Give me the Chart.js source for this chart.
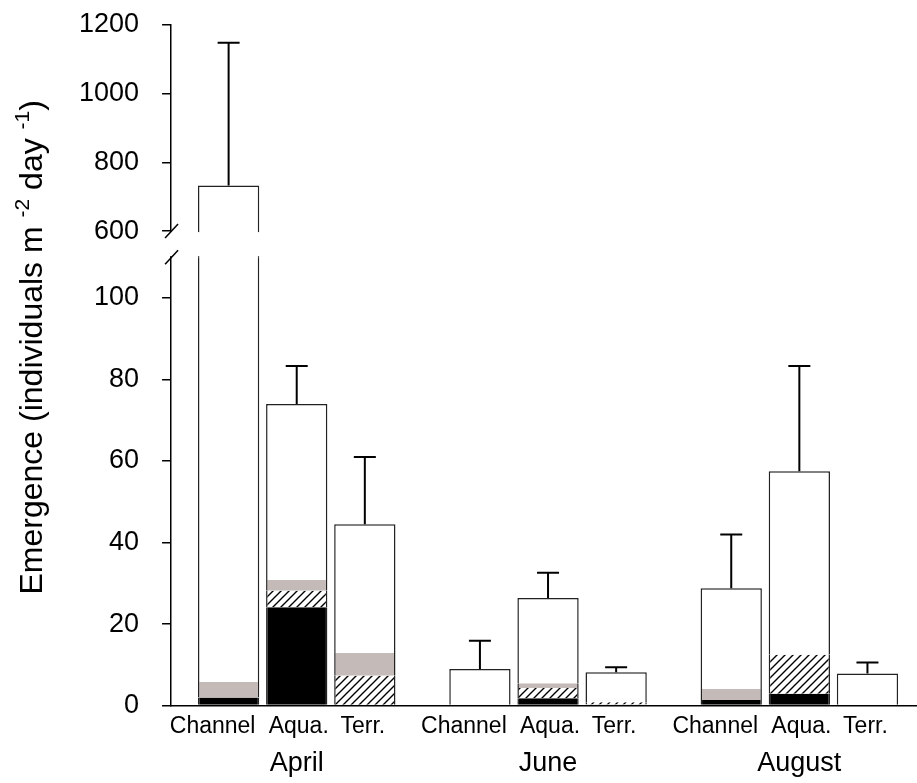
<!DOCTYPE html>
<html>
<head>
<meta charset="utf-8">
<script src="https://cdn.jsdelivr.net/npm/chart.js@4.4.1/dist/chart.umd.min.js"></script>
<style>
  html, body { margin: 0; padding: 0; background: #fff; overflow: hidden; }
  #wrap { width: 925px; height: 783px; }
</style>
</head>
<body>
<div id="wrap"><canvas id="emergenceChart"></canvas></div>
<script>
const months = ['April', 'June', 'August'];
const sites = ['Channel', 'Aqua.', 'Terr.'];

// mean emergence per site (April, June, August)
const totalChannel = [733, 9.0, 28.8];
const totalAqua = [74.0, 26.4, 57.5];
const totalTerr = [44.5, 8.2, 7.9];

// standard errors
const seChannel = [415, 6.9, 13.2];
const seAqua = [9.3, 6.2, 25.8];
const seTerr = [16.5, 1.2, 2.7];

// filled parts at the bottom of each bar: black, hatched, grey
const blackChannel = [2.0, 0, 1.4];
const hatchChannel = [0, 0, 0];
const greyChannel = [3.8, 0, 2.7];
const blackAqua = [24.1, 1.8, 2.9];
const hatchAqua = [4.1, 2.5, 9.6];
const greyAqua = [2.6, 1.2, 0];
const blackTerr = [0, 0.3, 0];
const hatchTerr = [7.3, 0.5, 0];
const greyTerr = [5.6, 0, 0];

const lowTicks = [0, 20, 40, 60, 80, 100];
const highTicks = [600, 800, 1000, 1200];

// broken axis: lower part 0-110, upper part 600-1200 (min lowered to hold the gap)
const lowMax = 110;
const highMin = 524;
const highMax = 1200;

const FONT = "'Liberation Sans', Arial, sans-serif";
const EDGE = '#222';

Chart.defaults.color = '#000';
Chart.defaults.font.family = FONT;

const canvas = document.getElementById('emergenceChart');
const ctx = canvas.getContext('2d');

// hatch pattern for the middle part
function makeHatch() {
    const c = document.createElement('canvas');
    c.width = 8;
    c.height = 8;
    const g = c.getContext('2d');
    g.fillStyle = '#fff';
    g.fillRect(0, 0, 8, 8);
    g.strokeStyle = '#000';
    g.lineWidth = 1.4;
    g.beginPath();
    g.moveTo(0, 8); g.lineTo(8, 0);
    g.moveTo(-2, 2); g.lineTo(2, -2);
    g.moveTo(6, 10); g.lineTo(10, 6);
    g.stroke();
    return ctx.createPattern(c, 'repeat');
}
const hatch = makeHatch();

const sides = {top: 0, right: 1.5, bottom: 0, left: 1.5};
const topBox = {top: 1.5, right: 1.5, bottom: 0, left: 1.5};

function siteDatasets(site, black, hatched, grey, total) {
    const white = total.map((t, i) => t - black[i] - hatched[i] - grey[i]);
    const common = {stack: site, yAxisID: 'y', borderColor: EDGE, borderSkipped: false};
    return [
        {...common, label: site + ' black', data: black, backgroundColor: '#000', borderWidth: sides},
        {...common, label: site + ' hatched', data: hatched, backgroundColor: hatch, borderWidth: sides},
        {...common, label: site + ' grey', data: grey, backgroundColor: '#c4bab8', borderWidth: sides},
        {...common, label: site + ' total', data: white, backgroundColor: '#fff', borderWidth: topBox}
    ];
}

// label shift under the bars (Channel sits a bit to the left)
const siteInfo = [
    {name: sites[0], total: totalChannel, se: seChannel, shift: -16},
    {name: sites[1], total: totalAqua, se: seAqua, shift: 2},
    {name: sites[2], total: totalTerr, se: seTerr, shift: -2}
];

const datasets = [
    ...siteDatasets(sites[0], blackChannel, hatchChannel, greyChannel, totalChannel),
    ...siteDatasets(sites[1], blackAqua, hatchAqua, greyAqua, totalAqua),
    ...siteDatasets(sites[2], blackTerr, hatchTerr, greyTerr, totalTerr),
    // part of the Channel bar above the break
    {
        label: 'Channel upper', stack: sites[0], yAxisID: 'y2',
        data: totalChannel.map(t => t > lowMax ? [highMin, t] : null),
        backgroundColor: '#fff', borderColor: EDGE, borderWidth: topBox, borderSkipped: false
    }
];

// error bars above every bar
const errorBars = {
    id: 'errorBars',
    afterDatasetsDraw(chart) {
        const {ctx, scales: {y, y2}} = chart;
        const px = v => v > lowMax ? y2.getPixelForValue(v) : y.getPixelForValue(v);
        ctx.save();
        ctx.strokeStyle = '#000';
        ctx.lineWidth = 2;
        siteInfo.forEach((s, k) => {
            const meta = chart.getDatasetMeta(k * 4);
            meta.data.forEach((bar, i) => {
                const y0 = px(s.total[i]);
                const y1 = px(s.total[i] + s.se[i]);
                ctx.beginPath();
                ctx.moveTo(bar.x, y0);
                ctx.lineTo(bar.x, y1);
                ctx.moveTo(bar.x - 11, y1);
                ctx.lineTo(bar.x + 11, y1);
                ctx.stroke();
            });
        });
        ctx.restore();
    }
};

// gap with slashes between the two axis parts, site names, axis title
const decorations = {
    id: 'decorations',
    afterDraw(chart) {
        const {ctx, chartArea, scales: {x, y, y2}} = chart;
        const gTop = y2.getPixelForValue(highTicks[0]) + 1;
        const gBot = y.top - 1;
        const ax = chartArea.left;
        ctx.save();
        ctx.fillStyle = '#fff';
        ctx.fillRect(ax - 4, gTop, chartArea.right - ax + 4, gBot - gTop);
        ctx.strokeStyle = '#000';
        ctx.lineWidth = 1.5;
        [gTop - 1, gBot + 1].forEach(py => {
            ctx.beginPath();
            ctx.moveTo(ax - 6, py + 7);
            ctx.lineTo(ax + 7, py - 7);
            ctx.stroke();
        });

        // site names under each bar
        ctx.fillStyle = '#000';
        ctx.font = '23px ' + FONT;
        ctx.textAlign = 'center';
        ctx.textBaseline = 'alphabetic';
        siteInfo.forEach((s, k) => {
            chart.getDatasetMeta(k * 4).data.forEach(bar => {
                ctx.fillText(s.name, bar.x + s.shift, x.top + 27);
            });
        });

        // y title with superscripts
        const parts = [
            ['Emergence (individuals m ', 32, 0],
            ['-2', 21, -13],
            [' day ', 32, 0],
            ['-1', 21, -13],
            [')', 32, 0]
        ];
        let width = 0;
        parts.forEach(p => {
            ctx.font = p[1] + 'px ' + FONT;
            width += ctx.measureText(p[0]).width;
        });
        ctx.translate(42, (chartArea.top + chartArea.bottom) / 2 - 18);
        ctx.rotate(-Math.PI / 2);
        ctx.textAlign = 'left';
        let pos = -width / 2;
        parts.forEach(p => {
            ctx.font = p[1] + 'px ' + FONT;
            ctx.fillText(p[0], pos, p[2]);
            pos += ctx.measureText(p[0]).width;
        });
        ctx.restore();
    }
};

const axisStyle = {
    grid: {drawOnChartArea: false, drawTicks: true, tickLength: 9, color: '#000', lineWidth: 1.5},
    border: {display: true, color: '#000', width: 1.5},
    // the tick padding should not push the plot down
    afterFit: (scale) => { scale.paddingTop = 0; scale.paddingBottom = 0; }
};
const tickStyle = {font: {size: 27}, padding: 23, color: '#000', callback: v => String(v)};

new Chart(canvas, {
    type: 'bar',
    data: {labels: months, datasets: datasets},
    options: {
        responsive: true,
        maintainAspectRatio: false,
        animation: false,
        categoryPercentage: 0.813,
        barPercentage: 0.9,
        layout: {padding: {left: 56, right: 0, top: 25, bottom: -39}},
        plugins: {legend: {display: false}, tooltip: {enabled: false}},
        scales: {
            x: {
                grid: {display: true, drawOnChartArea: false, drawTicks: false},
                border: {display: true, color: '#000', width: 1.5},
                ticks: {font: {size: 27}, padding: 42, color: '#000'}
            },
            y: {
                ...axisStyle,
                type: 'linear', position: 'left', stack: 'emergence', stackWeight: 448,
                stacked: true, min: 0, max: lowMax,
                ticks: tickStyle,
                afterBuildTicks: (scale) => { scale.ticks = lowTicks.map(v => ({value: v})); }
            },
            y2: {
                ...axisStyle,
                type: 'linear', position: 'left', stack: 'emergence', stackWeight: 232,
                min: highMin, max: highMax,
                ticks: tickStyle,
                afterBuildTicks: (scale) => { scale.ticks = highTicks.map(v => ({value: v})); }
            }
        }
    },
    plugins: [errorBars, decorations]
});
</script>
</body>
</html>
